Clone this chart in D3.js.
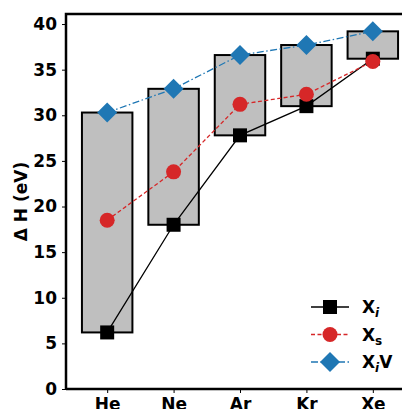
<!DOCTYPE html>
<html><head><meta charset="utf-8">
<script src="https://cdn.jsdelivr.net/npm/d3@7"></script>
<style>body{margin:0;background:#fff}svg{display:block}text{font-family:"DejaVu Sans",sans-serif;font-weight:bold}</style>
</head><body><div id="c"></div>
<script>
const categories = ["He","Ne","Ar","Kr","Xe"];
const xi  = [6.2, 18.0, 27.8, 31.0, 36.2];
const xs  = [18.5, 23.8, 31.2, 32.3, 35.9];
const xiv = [30.3, 32.9, 36.6, 37.7, 39.2];
const yTicks = [0,5,10,15,20,25,30,35,40];

(function(){
const W=402,H=409;
const svg=d3.select("#c").append("svg").attr("width",W).attr("height",H);
const mL=66, mT=14, mB=389, mR=414;
const x=d3.scaleLinear().domain([-0.62,4.62]).range([mL,mR]);
const y=d3.scaleLinear().domain([0,41.1]).range([mB,mT]);
const idx=categories.map((d,i)=>i);

const bw=0.76;
svg.selectAll("rect.box").data(idx).join("rect").attr("class","box")
 .attr("x",i=>x(i-bw/2)).attr("width",x(bw)-x(0))
 .attr("y",i=>y(xiv[i])).attr("height",i=>y(xi[i])-y(xiv[i]))
 .attr("fill","#bfbfbf").attr("stroke","#000").attr("stroke-width",2);

function line(vals,color,dash,width){
  svg.append("path").datum(idx)
   .attr("d",d3.line().x(i=>x(i)).y(i=>y(vals[i])))
   .attr("fill","none").attr("stroke",color).attr("stroke-width",width)
   .attr("stroke-dasharray",dash);
}
line(xi,"#000",null,1.3);
svg.selectAll("rect.sq").data(idx).join("rect").attr("class","sq")
 .attr("x",i=>x(i)-7).attr("y",i=>y(xi[i])-7).attr("width",14).attr("height",14).attr("fill","#000");
line(xs,"#d62728","4,2.5",1.3);
svg.selectAll("circle.c").data(idx).join("circle").attr("class","c")
 .attr("cx",i=>x(i)).attr("cy",i=>y(xs[i])).attr("r",7.5).attr("fill","#d62728");
line(xiv,"#1f77b4","7,2.5,1.5,2.5",1.3);
const dm=10;
svg.selectAll("path.dm").data(idx).join("path").attr("class","dm")
 .attr("d",i=>`M${x(i)},${y(xiv[i])-dm}L${x(i)+dm},${y(xiv[i])}L${x(i)},${y(xiv[i])+dm}L${x(i)-dm},${y(xiv[i])}Z`)
 .attr("fill","#1f77b4");

const ya=svg.append("g").attr("transform",`translate(${mL},0)`)
 .call(d3.axisLeft(y).tickValues(yTicks).tickSize(4).tickPadding(5).tickFormat(d3.format("d")));
const xa=svg.append("g").attr("transform",`translate(0,${mB})`)
 .call(d3.axisBottom(x).tickValues(idx).tickSize(4).tickPadding(4).tickFormat(i=>categories[i]));
[ya,xa].forEach(a=>{a.select(".domain").remove();a.selectAll("text").attr("font-size",17).attr("fill","#000").style("font-family","DejaVu Sans").style("font-weight","bold");a.selectAll("line").attr("stroke-width",1);});
xa.selectAll("text").attr("dy","0.75em");
svg.append("path").attr("d",`M${mL},${mB}V${mT}H${W+5}`).attr("fill","none").attr("stroke","#000").attr("stroke-width",2.5);
svg.append("path").attr("d",`M${mL},${mB}H${W+5}`).attr("fill","none").attr("stroke","#000").attr("stroke-width",2.5);

svg.append("text").attr("transform",`translate(27,${(mT+mB)/2}) rotate(-90)`)
 .attr("text-anchor","middle").attr("font-size",17).text("Δ H (eV)");

const leg=[{t:"X",s:"i",v:"",c:"#000",d:null,m:"sq"},{t:"X",s:"s",v:"",c:"#d62728",d:"4,2.5",m:"c"},{t:"X",s:"i",v:"V",c:"#1f77b4",d:"7,2.5,1.5,2.5",m:"dm"}];
leg.forEach((L,k)=>{
  const cy=307+k*27.5, cx=330;
  svg.append("line").attr("x1",311).attr("x2",349).attr("y1",cy).attr("y2",cy).attr("stroke",L.c).attr("stroke-width",1.3).attr("stroke-dasharray",L.d);
  if(L.m=="sq") svg.append("rect").attr("x",cx-7).attr("y",cy-7).attr("width",14).attr("height",14).attr("fill",L.c);
  if(L.m=="c") svg.append("circle").attr("cx",cx).attr("cy",cy).attr("r",7.5).attr("fill",L.c);
  if(L.m=="dm") svg.append("path").attr("d",`M${cx},${cy-dm}L${cx+dm},${cy}L${cx},${cy+dm}L${cx-dm},${cy}Z`).attr("fill",L.c);
  const t=svg.append("text").attr("x",362).attr("y",cy+6).attr("font-size",17);
  t.append("tspan").text(L.t);
  t.append("tspan").attr("font-size",12).attr("dy",4).attr("font-style",L.s=="i"?"italic":"normal").text(L.s);
  if(L.v) t.append("tspan").attr("dy",-4).text(L.v);
});
})();
</script></body></html>
